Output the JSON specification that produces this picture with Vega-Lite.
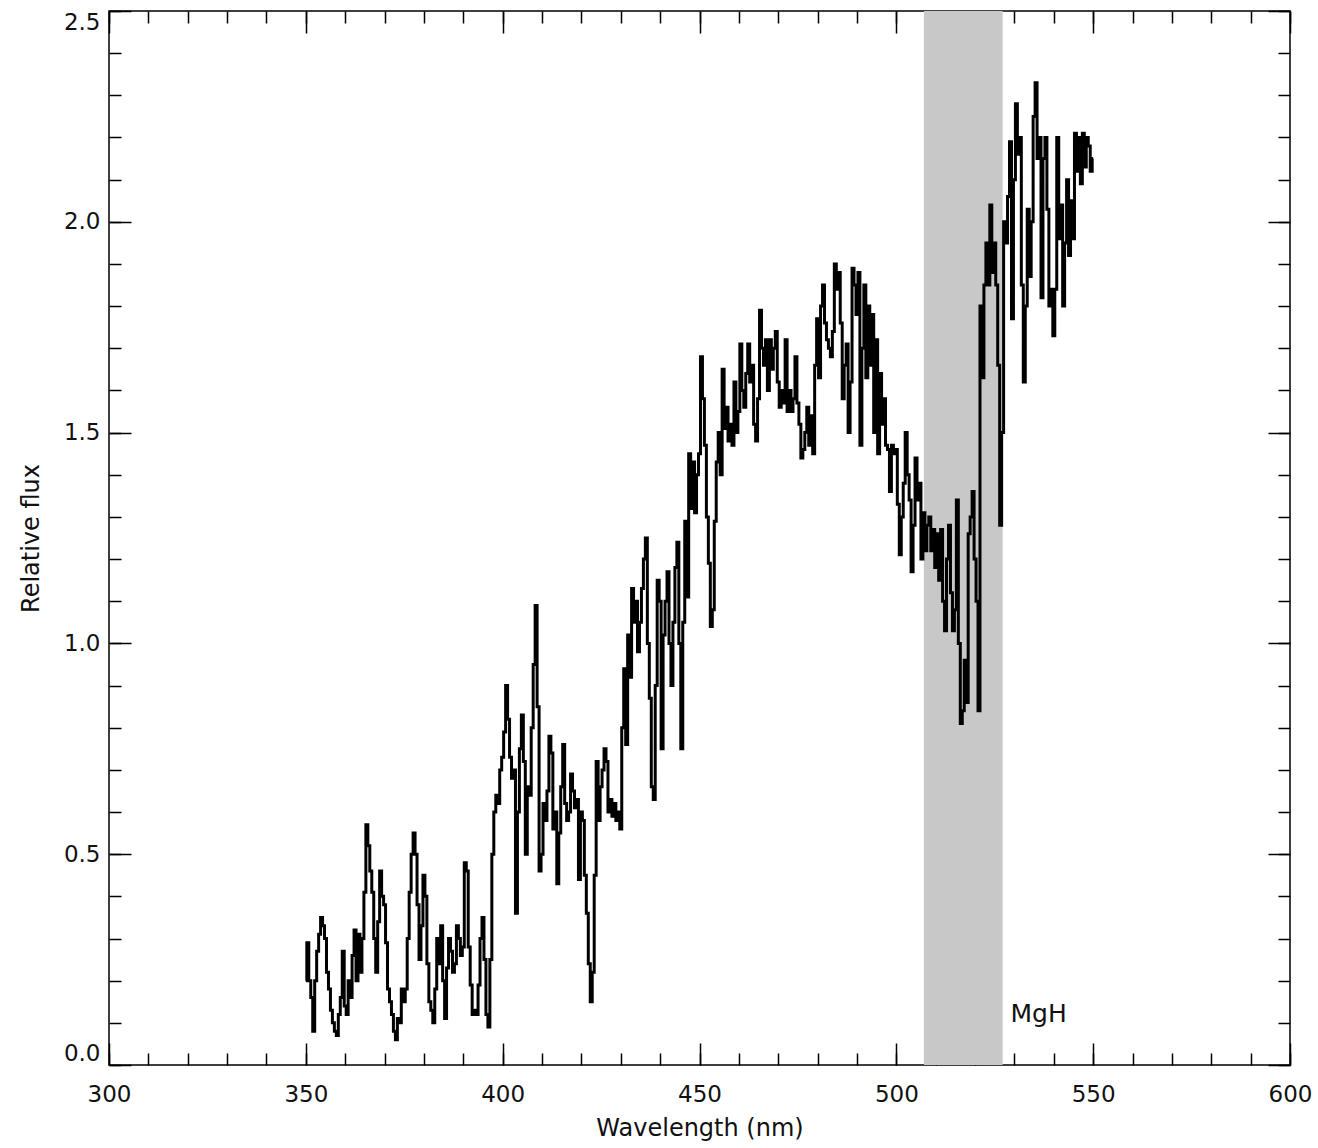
{
"$schema": "https://vega.github.io/schema/vega-lite/v6.json",
"width": 1181, "height": 1054,
"autosize": {"type": "none"},
"padding": {"left": 109, "top": 11, "right": 28, "bottom": 83},
"background": "white",
"config": {
  "view": {"stroke": "black", "strokeWidth": 1.5},
  "axis": {"grid": false, "domain": false, "labelFont": "DejaVu Sans", "titleFont": "DejaVu Sans", "labelFontSize": 23, "titleFontSize": 24, "labelColor": "#111", "titleColor": "#111", "tickColor": "black", "titleFontWeight": "normal", "tickWidth": 1.5}
},
"datasets": {
  "band": [{"x1": 507, "x2": 527}],
  "lbl": [{"w": 529, "f": 0.12, "t": "MgH"}],
  "spec": [
{"w":350.0,"f":0.20},{"w":350.5,"f":0.29},{"w":351.0,"f":0.20},{"w":351.5,"f":0.16},{"w":352.0,"f":0.08},{"w":352.5,"f":0.20},{"w":353.0,"f":0.27},{"w":353.5,"f":0.31},{"w":354.0,"f":0.35},{"w":354.5,"f":0.33},
{"w":355.0,"f":0.30},{"w":355.5,"f":0.22},{"w":356.0,"f":0.18},{"w":356.5,"f":0.13},{"w":357.0,"f":0.10},{"w":357.5,"f":0.08},{"w":358.0,"f":0.07},{"w":358.5,"f":0.12},{"w":359.0,"f":0.16},{"w":359.5,"f":0.27},
{"w":360.0,"f":0.14},{"w":360.5,"f":0.12},{"w":361.0,"f":0.20},{"w":361.5,"f":0.16},{"w":362.0,"f":0.26},{"w":362.5,"f":0.32},{"w":363.0,"f":0.20},{"w":363.5,"f":0.31},{"w":364.0,"f":0.22},{"w":364.5,"f":0.30},
{"w":365.0,"f":0.41},{"w":365.5,"f":0.57},{"w":366.0,"f":0.52},{"w":366.5,"f":0.46},{"w":367.0,"f":0.41},{"w":367.5,"f":0.30},{"w":368.0,"f":0.22},{"w":368.5,"f":0.34},{"w":369.0,"f":0.46},{"w":369.5,"f":0.40},
{"w":370.0,"f":0.38},{"w":370.5,"f":0.29},{"w":371.0,"f":0.18},{"w":371.5,"f":0.15},{"w":372.0,"f":0.12},{"w":372.5,"f":0.08},{"w":373.0,"f":0.06},{"w":373.5,"f":0.11},{"w":374.0,"f":0.10},{"w":374.5,"f":0.18},
{"w":375.0,"f":0.15},{"w":375.5,"f":0.18},{"w":376.0,"f":0.30},{"w":376.5,"f":0.41},{"w":377.0,"f":0.50},{"w":377.5,"f":0.55},{"w":378.0,"f":0.50},{"w":378.5,"f":0.38},{"w":379.0,"f":0.25},{"w":379.5,"f":0.33},
{"w":380.0,"f":0.45},{"w":380.5,"f":0.40},{"w":381.0,"f":0.24},{"w":381.5,"f":0.15},{"w":382.0,"f":0.13},{"w":382.5,"f":0.10},{"w":383.0,"f":0.18},{"w":383.5,"f":0.30},{"w":384.0,"f":0.24},{"w":384.5,"f":0.33},
{"w":385.0,"f":0.20},{"w":385.5,"f":0.11},{"w":386.0,"f":0.23},{"w":386.5,"f":0.30},{"w":387.0,"f":0.27},{"w":387.5,"f":0.22},{"w":388.0,"f":0.24},{"w":388.5,"f":0.33},{"w":389.0,"f":0.30},{"w":389.5,"f":0.26},
{"w":390.0,"f":0.28},{"w":390.5,"f":0.48},{"w":391.0,"f":0.46},{"w":391.5,"f":0.28},{"w":392.0,"f":0.19},{"w":392.5,"f":0.12},{"w":393.0,"f":0.13},{"w":393.5,"f":0.12},{"w":394.0,"f":0.19},{"w":394.5,"f":0.30},
{"w":395.0,"f":0.35},{"w":395.5,"f":0.25},{"w":396.0,"f":0.12},{"w":396.5,"f":0.09},{"w":397.0,"f":0.25},{"w":397.5,"f":0.50},{"w":398.0,"f":0.60},{"w":398.5,"f":0.64},{"w":399.0,"f":0.62},{"w":399.5,"f":0.70},
{"w":400.0,"f":0.73},{"w":400.5,"f":0.79},{"w":401.0,"f":0.90},{"w":401.5,"f":0.82},{"w":402.0,"f":0.73},{"w":402.5,"f":0.68},{"w":403.0,"f":0.70},{"w":403.5,"f":0.36},{"w":404.0,"f":0.60},{"w":404.5,"f":0.75},
{"w":405.0,"f":0.83},{"w":405.5,"f":0.72},{"w":406.0,"f":0.50},{"w":406.5,"f":0.66},{"w":407.0,"f":0.64},{"w":407.5,"f":0.80},{"w":408.0,"f":0.95},{"w":408.5,"f":1.09},{"w":409.0,"f":0.85},{"w":409.5,"f":0.46},
{"w":410.0,"f":0.50},{"w":410.5,"f":0.62},{"w":411.0,"f":0.58},{"w":411.5,"f":0.65},{"w":412.0,"f":0.78},{"w":412.5,"f":0.74},{"w":413.0,"f":0.56},{"w":413.5,"f":0.60},{"w":414.0,"f":0.43},{"w":414.5,"f":0.55},
{"w":415.0,"f":0.66},{"w":415.5,"f":0.76},{"w":416.0,"f":0.62},{"w":416.5,"f":0.58},{"w":417.0,"f":0.60},{"w":417.5,"f":0.69},{"w":418.0,"f":0.65},{"w":418.5,"f":0.61},{"w":419.0,"f":0.63},{"w":419.5,"f":0.44},
{"w":420.0,"f":0.60},{"w":420.5,"f":0.58},{"w":421.0,"f":0.45},{"w":421.5,"f":0.36},{"w":422.0,"f":0.24},{"w":422.5,"f":0.15},{"w":423.0,"f":0.22},{"w":423.5,"f":0.45},{"w":424.0,"f":0.72},{"w":424.5,"f":0.58},
{"w":425.0,"f":0.66},{"w":425.5,"f":0.70},{"w":426.0,"f":0.75},{"w":426.5,"f":0.72},{"w":427.0,"f":0.60},{"w":427.5,"f":0.63},{"w":428.0,"f":0.59},{"w":428.5,"f":0.62},{"w":429.0,"f":0.58},{"w":429.5,"f":0.60},
{"w":430.0,"f":0.56},{"w":430.5,"f":0.80},{"w":431.0,"f":0.94},{"w":431.5,"f":0.76},{"w":432.0,"f":1.02},{"w":432.5,"f":0.92},{"w":433.0,"f":1.13},{"w":433.5,"f":1.05},{"w":434.0,"f":1.10},{"w":434.5,"f":0.98},
{"w":435.0,"f":1.05},{"w":435.5,"f":1.13},{"w":436.0,"f":1.20},{"w":436.5,"f":1.25},{"w":437.0,"f":1.00},{"w":437.5,"f":0.87},{"w":438.0,"f":0.66},{"w":438.5,"f":0.63},{"w":439.0,"f":0.90},{"w":439.5,"f":1.15},
{"w":440.0,"f":1.10},{"w":440.5,"f":0.75},{"w":441.0,"f":1.02},{"w":441.5,"f":1.10},{"w":442.0,"f":1.17},{"w":442.5,"f":1.00},{"w":443.0,"f":0.90},{"w":443.5,"f":1.05},{"w":444.0,"f":1.18},{"w":444.5,"f":1.24},
{"w":445.0,"f":1.00},{"w":445.5,"f":0.75},{"w":446.0,"f":1.05},{"w":446.5,"f":1.29},{"w":447.0,"f":1.11},{"w":447.5,"f":1.45},{"w":448.0,"f":1.32},{"w":448.5,"f":1.43},{"w":449.0,"f":1.31},{"w":449.5,"f":1.40},
{"w":450.0,"f":1.45},{"w":450.5,"f":1.68},{"w":451.0,"f":1.58},{"w":451.5,"f":1.47},{"w":452.0,"f":1.30},{"w":452.5,"f":1.19},{"w":453.0,"f":1.04},{"w":453.5,"f":1.08},{"w":454.0,"f":1.29},{"w":454.5,"f":1.43},
{"w":455.0,"f":1.50},{"w":455.5,"f":1.40},{"w":456.0,"f":1.65},{"w":456.5,"f":1.51},{"w":457.0,"f":1.56},{"w":457.5,"f":1.48},{"w":458.0,"f":1.52},{"w":458.5,"f":1.47},{"w":459.0,"f":1.62},{"w":459.5,"f":1.50},
{"w":460.0,"f":1.55},{"w":460.5,"f":1.71},{"w":461.0,"f":1.60},{"w":461.5,"f":1.56},{"w":462.0,"f":1.64},{"w":462.5,"f":1.71},{"w":463.0,"f":1.62},{"w":463.5,"f":1.66},{"w":464.0,"f":1.52},{"w":464.5,"f":1.48},
{"w":465.0,"f":1.58},{"w":465.5,"f":1.79},{"w":466.0,"f":1.70},{"w":466.5,"f":1.66},{"w":467.0,"f":1.72},{"w":467.5,"f":1.60},{"w":468.0,"f":1.72},{"w":468.5,"f":1.65},{"w":469.0,"f":1.70},{"w":469.5,"f":1.74},
{"w":470.0,"f":1.62},{"w":470.5,"f":1.56},{"w":471.0,"f":1.60},{"w":471.5,"f":1.57},{"w":472.0,"f":1.72},{"w":472.5,"f":1.55},{"w":473.0,"f":1.60},{"w":473.5,"f":1.55},{"w":474.0,"f":1.58},{"w":474.5,"f":1.68},
{"w":475.0,"f":1.57},{"w":475.5,"f":1.52},{"w":476.0,"f":1.44},{"w":476.5,"f":1.46},{"w":477.0,"f":1.50},{"w":477.5,"f":1.56},{"w":478.0,"f":1.47},{"w":478.5,"f":1.54},{"w":479.0,"f":1.45},{"w":479.5,"f":1.66},
{"w":480.0,"f":1.77},{"w":480.5,"f":1.63},{"w":481.0,"f":1.80},{"w":481.5,"f":1.85},{"w":482.0,"f":1.76},{"w":482.5,"f":1.72},{"w":483.0,"f":1.70},{"w":483.5,"f":1.68},{"w":484.0,"f":1.74},{"w":484.5,"f":1.90},
{"w":485.0,"f":1.84},{"w":485.5,"f":1.88},{"w":486.0,"f":1.76},{"w":486.5,"f":1.58},{"w":487.0,"f":1.66},{"w":487.5,"f":1.71},{"w":488.0,"f":1.50},{"w":488.5,"f":1.62},{"w":489.0,"f":1.89},{"w":489.5,"f":1.85},
{"w":490.0,"f":1.78},{"w":490.5,"f":1.88},{"w":491.0,"f":1.47},{"w":491.5,"f":1.70},{"w":492.0,"f":1.85},{"w":492.5,"f":1.63},{"w":493.0,"f":1.80},{"w":493.5,"f":1.66},{"w":494.0,"f":1.78},{"w":494.5,"f":1.50},
{"w":495.0,"f":1.72},{"w":495.5,"f":1.45},{"w":496.0,"f":1.64},{"w":496.5,"f":1.52},{"w":497.0,"f":1.58},{"w":497.5,"f":1.47},{"w":498.0,"f":1.46},{"w":498.5,"f":1.36},{"w":499.0,"f":1.47},{"w":499.5,"f":1.45},
{"w":500.0,"f":1.46},{"w":500.5,"f":1.33},{"w":501.0,"f":1.21},{"w":501.5,"f":1.30},{"w":502.0,"f":1.38},{"w":502.5,"f":1.50},{"w":503.0,"f":1.40},{"w":503.5,"f":1.34},{"w":504.0,"f":1.17},{"w":504.5,"f":1.28},
{"w":505.0,"f":1.44},{"w":505.5,"f":1.34},{"w":506.0,"f":1.38},{"w":506.5,"f":1.20},{"w":507.0,"f":1.31},{"w":507.5,"f":1.22},{"w":508.0,"f":1.28},{"w":508.5,"f":1.30},{"w":509.0,"f":1.22},{"w":509.5,"f":1.27},
{"w":510.0,"f":1.18},{"w":510.5,"f":1.26},{"w":511.0,"f":1.15},{"w":511.5,"f":1.27},{"w":512.0,"f":1.10},{"w":512.5,"f":1.03},{"w":513.0,"f":1.20},{"w":513.5,"f":1.28},{"w":514.0,"f":1.12},{"w":514.5,"f":1.03},
{"w":515.0,"f":1.08},{"w":515.5,"f":1.34},{"w":516.0,"f":1.00},{"w":516.5,"f":0.81},{"w":517.0,"f":0.84},{"w":517.5,"f":0.96},{"w":518.0,"f":0.86},{"w":518.5,"f":1.26},{"w":519.0,"f":1.30},{"w":519.5,"f":1.36},
{"w":520.0,"f":1.20},{"w":520.5,"f":1.10},{"w":521.0,"f":0.84},{"w":521.5,"f":1.80},{"w":522.0,"f":1.63},{"w":522.5,"f":1.85},{"w":523.0,"f":1.95},{"w":523.5,"f":1.85},{"w":524.0,"f":2.04},{"w":524.5,"f":1.88},
{"w":525.0,"f":1.95},{"w":525.5,"f":1.85},{"w":526.0,"f":1.66},{"w":526.5,"f":1.28},{"w":527.0,"f":1.50},{"w":527.5,"f":2.00},{"w":528.0,"f":1.95},{"w":528.5,"f":2.06},{"w":529.0,"f":2.19},{"w":529.5,"f":1.77},
{"w":530.0,"f":2.10},{"w":530.5,"f":2.28},{"w":531.0,"f":2.16},{"w":531.5,"f":2.20},{"w":532.0,"f":1.85},{"w":532.5,"f":1.62},{"w":533.0,"f":1.80},{"w":533.5,"f":2.03},{"w":534.0,"f":1.87},{"w":534.5,"f":2.00},
{"w":535.0,"f":2.25},{"w":535.5,"f":2.33},{"w":536.0,"f":2.15},{"w":536.5,"f":2.20},{"w":537.0,"f":1.82},{"w":537.5,"f":2.15},{"w":538.0,"f":2.20},{"w":538.5,"f":2.03},{"w":539.0,"f":1.80},{"w":539.5,"f":1.84},
{"w":540.0,"f":1.73},{"w":540.5,"f":1.84},{"w":541.0,"f":2.20},{"w":541.5,"f":1.96},{"w":542.0,"f":2.04},{"w":542.5,"f":1.80},{"w":543.0,"f":1.95},{"w":543.5,"f":2.10},{"w":544.0,"f":1.92},{"w":544.5,"f":2.05},
{"w":545.0,"f":1.96},{"w":545.5,"f":2.21},{"w":546.0,"f":2.12},{"w":546.5,"f":2.20},{"w":547.0,"f":2.09},{"w":547.5,"f":2.21},{"w":548.0,"f":2.13},{"w":548.5,"f":2.20},{"w":549.0,"f":2.18},{"w":549.5,"f":2.12},
{"w":550.0,"f":2.15}
  ]
},
"layer": [
  {
    "data": {"name": "band"},
    "mark": {"type": "rect", "color": "#c8c8c8"},
    "encoding": {
      "x": {"field": "x1", "type": "quantitative", "scale": {"domain": [300, 600], "nice": false, "zero": false},
            "axis": {"orient": "bottom", "values": [300, 350, 400, 450, 500, 550, 600], "tickSize": -22, "labelPadding": 40, "format": "d", "title": "Wavelength (nm)", "titlePadding": 10, "labelFlush": false}},
      "x2": {"field": "x2"}
    }
  },
  {
    "data": {"name": "spec"},
    "mark": {"type": "line", "interpolate": "step", "color": "black", "strokeWidth": 3},
    "encoding": {
      "x": {"field": "w", "type": "quantitative", "scale": {"domain": [300, 600], "nice": false, "zero": false},
            "axis": {"orient": "bottom", "values": [300,310,320,330,340,350,360,370,380,390,400,410,420,430,440,450,460,470,480,490,500,510,520,530,540,550,560,570,580,590,600], "tickSize": -12, "labels": false, "title": null}},
      "y": {"field": "f", "type": "quantitative", "scale": {"domain": [0, 2.5], "nice": false, "zero": false},
            "axis": {"orient": "left", "values": [0, 0.5, 1, 1.5, 2, 2.5], "tickSize": -22, "labelPadding": 31, "format": ".1f", "title": "Relative flux", "titlePadding": 20, "labelFlush": true}}
    }
  },
  {
    "data": {"name": "lbl"},
    "mark": {"type": "text", "align": "left", "baseline": "middle", "font": "DejaVu Sans", "fontSize": 25, "color": "#111"},
    "encoding": {
      "x": {"field": "w", "type": "quantitative", "scale": {"domain": [300, 600], "nice": false, "zero": false},
            "axis": {"orient": "top", "values": [300, 350, 400, 450, 500, 550, 600], "tickSize": -22, "labels": false, "title": null}},
      "y": {"field": "f", "type": "quantitative", "scale": {"domain": [0, 2.5], "nice": false, "zero": false},
            "axis": {"orient": "left", "values": [0,0.1,0.2,0.3,0.4,0.5,0.6,0.7,0.8,0.9,1,1.1,1.2,1.3,1.4,1.5,1.6,1.7,1.8,1.9,2,2.1,2.2,2.3,2.4,2.5], "tickSize": -12, "labels": false, "title": null}},
      "text": {"field": "t"}
    }
  },
  {
    "data": {"name": "spec"},
    "mark": {"type": "line", "opacity": 0},
    "encoding": {
      "x": {"field": "w", "type": "quantitative", "scale": {"domain": [300, 600], "nice": false, "zero": false},
            "axis": {"orient": "top", "values": [300,310,320,330,340,350,360,370,380,390,400,410,420,430,440,450,460,470,480,490,500,510,520,530,540,550,560,570,580,590,600], "tickSize": -12, "labels": false, "title": null}},
      "y": {"field": "f", "type": "quantitative", "scale": {"domain": [0, 2.5], "nice": false, "zero": false},
            "axis": {"orient": "right", "values": [0, 0.5, 1, 1.5, 2, 2.5], "tickSize": -22, "labels": false, "title": null}}
    }
  },
  {
    "data": {"name": "lbl"},
    "mark": {"type": "point", "opacity": 0},
    "encoding": {
      "x": {"field": "w", "type": "quantitative", "scale": {"domain": [300, 600], "nice": false, "zero": false}, "axis": null},
      "y": {"field": "f", "type": "quantitative", "scale": {"domain": [0, 2.5], "nice": false, "zero": false},
            "axis": {"orient": "right", "values": [0,0.1,0.2,0.3,0.4,0.5,0.6,0.7,0.8,0.9,1,1.1,1.2,1.3,1.4,1.5,1.6,1.7,1.8,1.9,2,2.1,2.2,2.3,2.4,2.5], "tickSize": -12, "labels": false, "title": null}}
    }
  }
],
"resolve": {"axis": {"x": "independent", "y": "independent"}}
}
